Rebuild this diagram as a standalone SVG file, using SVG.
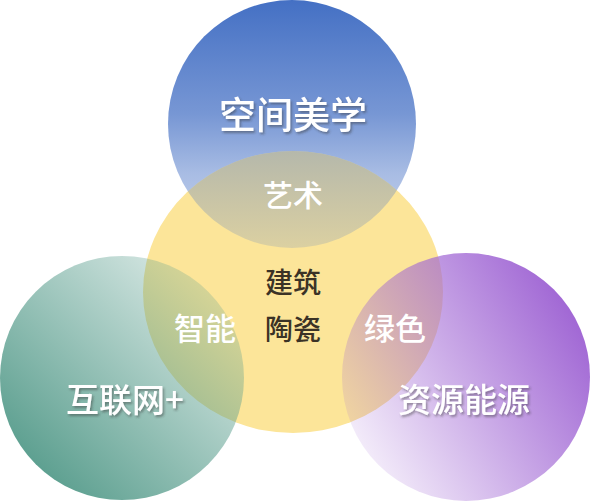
<svg xmlns="http://www.w3.org/2000/svg" width="591" height="502" viewBox="0 0 591 502">
  <defs>
    <linearGradient id="gBlue" gradientUnits="userSpaceOnUse" x1="0" y1="0" x2="0" y2="248">
      <stop offset="0" stop-color="#4470c4" stop-opacity="1"/>
      <stop offset="0.46" stop-color="#4a74c6" stop-opacity="0.75"/>
      <stop offset="0.7" stop-color="#4a74c6" stop-opacity="0.48"/>
      <stop offset="1" stop-color="#4a74c6" stop-opacity="0.3"/>
    </linearGradient>
    <linearGradient id="gBlueLens" gradientUnits="userSpaceOnUse" x1="0" y1="150" x2="0" y2="250">
      <stop offset="0" stop-color="#4a74c6" stop-opacity="0.4"/>
      <stop offset="1" stop-color="#4a74c6" stop-opacity="0.18"/>
    </linearGradient>
    <linearGradient id="gGreen" gradientUnits="userSpaceOnUse" x1="30" y1="470" x2="215" y2="285">
      <stop offset="0" stop-color="#5a9e8e" stop-opacity="1"/>
      <stop offset="1" stop-color="#5a9e8e" stop-opacity="0.22"/>
    </linearGradient>
    <linearGradient id="gPurple" gradientUnits="userSpaceOnUse" x1="590" y1="335" x2="365" y2="470">
      <stop offset="0" stop-color="#a066d4" stop-opacity="1"/>
      <stop offset="1" stop-color="#a066d4" stop-opacity="0.1"/>
    </linearGradient>
    <clipPath id="clipYellow">
      <ellipse cx="293" cy="292" rx="150" ry="141"/>
    </clipPath>
    <filter id="shadow" x="-10%" y="-20%" width="130%" height="150%">
      <feDropShadow dx="1.5" dy="2" stdDeviation="1" flood-color="#333" flood-opacity="0.45"/>
    </filter>
  </defs>
  <style>
    .lbl { font-family: "Noto Sans CJK SC", "Noto Sans", sans-serif; text-anchor: middle; }
    .white { fill: #ffffff; font-weight: 500; }
    .dark { fill: #3b3326; font-weight: 500; }
    .shadow { filter: url(#shadow); }
  </style>
  <g id="blue">
    <circle cx="292" cy="124" r="124" fill="url(#gBlue)"/>
  </g>
  <g id="yellow">
    <ellipse cx="293" cy="292" rx="150" ry="141" fill="#fce599"/>
    <circle cx="292" cy="124" r="124" fill="url(#gBlueLens)" clip-path="url(#clipYellow)"/>
  </g>
  <g id="green">
    <circle cx="122" cy="378" r="122" fill="url(#gGreen)"/>
  </g>
  <g id="purple">
    <circle cx="466" cy="377" r="124" fill="url(#gPurple)"/>
  </g>
  <g id="connectors"></g>
  <g id="labels">
    <text class="lbl white shadow" x="293" y="129" font-size="37">空间美学</text>
    <text class="lbl white" x="293" y="206" font-size="30">艺术</text>
    <text class="lbl dark" x="293" y="293" font-size="28">建筑</text>
    <text class="lbl dark" x="293" y="340" font-size="28">陶瓷</text>
    <text class="lbl white" x="205" y="340" font-size="31">智能</text>
    <text class="lbl white" x="395" y="340" font-size="31">绿色</text>
    <text class="lbl white shadow" x="125" y="412" font-size="33">互联网+</text>
    <text class="lbl white shadow" x="464" y="412" font-size="33">资源能源</text>
  </g>
</svg>
